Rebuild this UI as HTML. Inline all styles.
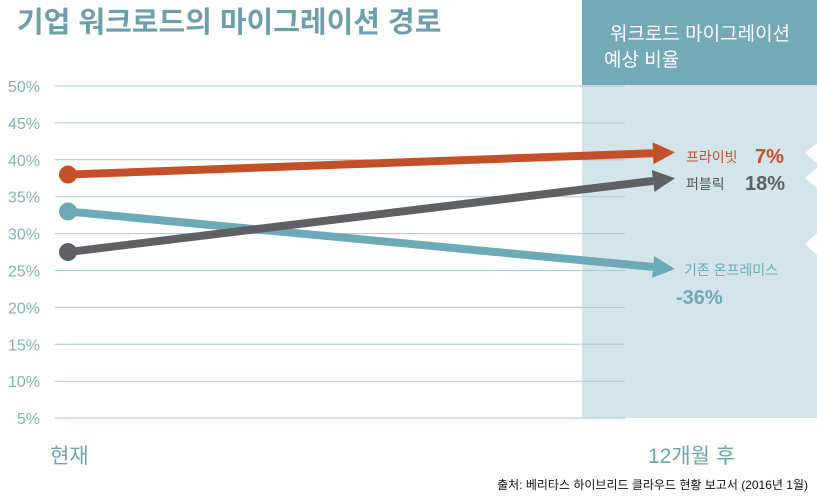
<!DOCTYPE html>
<html><head><meta charset="utf-8">
<style>
html,body{margin:0;padding:0;background:#fff;}
body{width:817px;height:499px;overflow:hidden;position:relative;font-family:"Liberation Sans","Noto Sans CJK KR",sans-serif;}
</style></head>
<body>
<svg id="chart" width="817" height="499" xmlns="http://www.w3.org/2000/svg" style="position:absolute;left:0;top:0">
  <rect x="582" y="0" width="235" height="418" fill="#d3e5ea"/>
  <rect x="582" y="0" width="235" height="85" fill="#72aab7"/>
  <text x="700" y="40" text-anchor="middle" fill="#fff" font-size="19" font-family="Liberation Sans,Noto Sans CJK KR,sans-serif">워크로드 마이그레이션</text>
  <text x="604" y="66" fill="#fff" font-size="19" font-family="Liberation Sans,Noto Sans CJK KR,sans-serif">예상 비율</text>
  <polygon points="817,143 805,153 817,163" fill="#fff"/>
  <polygon points="817,168 805,178 817,188" fill="#fff"/>
  <polygon points="817,233 805,244 817,255" fill="#fff"/>
  <text x="17" y="32" fill="#6c9fab" font-size="29" font-weight="bold" font-family="Liberation Sans,Noto Sans CJK KR,sans-serif">기업 워크로드의 마이그레이션 경로</text>
  <g id="grid"></g>
  <g id="series"></g>
  <text x="50" y="463" fill="#6da2ae" font-size="21" font-family="Liberation Sans,Noto Sans CJK KR,sans-serif">현재</text>
  <text x="648" y="463" fill="#6da2ae" font-size="21" font-family="Liberation Sans,Noto Sans CJK KR,sans-serif">12개월 후</text>
  <text x="808" y="489" text-anchor="end" fill="#111" font-size="12" font-family="Liberation Sans,Noto Sans CJK KR,sans-serif">출처: 베리타스 하이브리드 클라우드 현황 보고서 (2016년 1월)</text>
  <text x="686" y="162" fill="#c4502a" font-size="14" font-family="Liberation Sans,Noto Sans CJK KR,sans-serif">프라이빗</text>
  <text x="755" y="163" fill="#c4502a" font-size="20" font-weight="bold">7%</text>
  <text x="686" y="189" fill="#555" font-size="14" font-family="Liberation Sans,Noto Sans CJK KR,sans-serif">퍼블릭</text>
  <text x="745" y="190" fill="#5f6064" font-size="20" font-weight="bold">18%</text>
  <text x="684" y="275" fill="#6da9b6" font-size="14" font-family="Liberation Sans,Noto Sans CJK KR,sans-serif">기존 온프레미스</text>
  <text x="676" y="304" fill="#6da9b6" font-size="20" font-weight="bold">-36%</text>
</svg>
<script>
const ticks = [50,45,40,35,30,25,20,15,10,5];
const tickLabels = ["50%","45%","40%","35%","30%","25%","20%","15%","10%","5%"];
const seriesNames = ["private","public","onprem"];
const startValues = [38.0, 27.5, 33.0];
const endValues = [41.0, 37.5, 25.2];
const colors = ["#c4502a","#5f6064","#6daab7"];

const NS = "http://www.w3.org/2000/svg";
function y(v){ return 86 + (50 - v) * 7.38; }
const xStart = 68, xEnd = 675;
const grid = document.getElementById("grid");
ticks.forEach((t,i)=>{
  const l = document.createElementNS(NS,"line");
  
  
  l.setAttribute("x1",55); l.setAttribute("x2",625);
  l.setAttribute("y1",y(t)); l.setAttribute("y2",y(t));
  l.setAttribute("stroke","#a9c9d1"); l.setAttribute("stroke-width","1");
  grid.appendChild(l);
  const tx = document.createElementNS(NS,"text");
  
  
  tx.setAttribute("x",40); tx.setAttribute("y",y(t)+6);
  tx.setAttribute("text-anchor","end");
  tx.setAttribute("fill","#86b0ba"); tx.setAttribute("font-size","16");
  tx.setAttribute("font-family","Liberation Sans,sans-serif");
  tx.textContent = tickLabels[i];
  grid.appendChild(tx);
});
const sg = document.getElementById("series");
const order = [2,1,0];
order.forEach(i=>{
  const y1 = y(startValues[i]), y2 = y(endValues[i]);
  const ang = Math.atan2(y2-y1, xEnd-xStart);
  const headLen = 22, headW = 11;
  const bx = xEnd - headLen*Math.cos(ang), by = y2 - headLen*Math.sin(ang);
  const ln = document.createElementNS(NS,"line");
  
  
  ln.setAttribute("x1",xStart); ln.setAttribute("y1",y1);
  ln.setAttribute("x2",bx); ln.setAttribute("y2",by);
  ln.setAttribute("stroke",colors[i]); ln.setAttribute("stroke-width","8");
  sg.appendChild(ln);
  const px = -Math.sin(ang), py = Math.cos(ang);
  const head = document.createElementNS(NS,"polygon");
  
  
  head.setAttribute("points", `${xEnd},${y2} ${bx+px*headW},${by+py*headW} ${bx-px*headW},${by-py*headW}`);
  head.setAttribute("fill",colors[i]);
  sg.appendChild(head);
  const c = document.createElementNS(NS,"circle");
  
  
  c.setAttribute("cx",xStart); c.setAttribute("cy",y1); c.setAttribute("r","9");
  c.setAttribute("fill",colors[i]);
  sg.appendChild(c);
});
</script>
</body></html>
